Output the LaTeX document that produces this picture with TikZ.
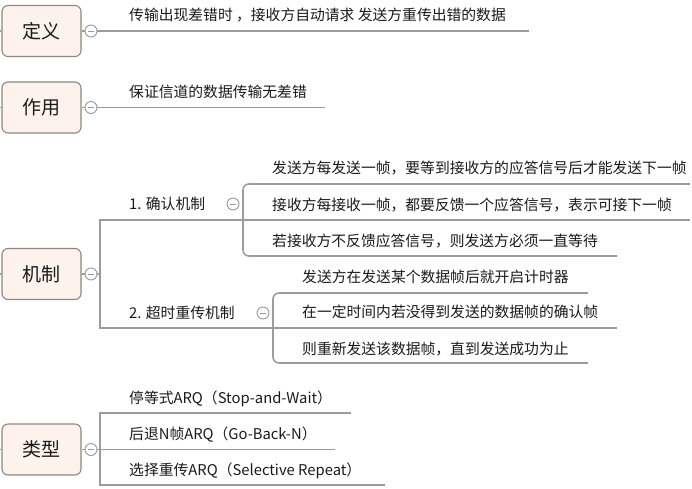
\documentclass[tikz,border=0pt]{standalone}
\usepackage{fontspec}
\setmainfont{Noto Sans CJK SC}
\definecolor{boxfill}{HTML}{FDF3EC}
\definecolor{boxdraw}{HTML}{8F877F}
\definecolor{linecol}{HTML}{9C9C9C}
\definecolor{foldcol}{HTML}{9A9A9A}
\definecolor{txt}{HTML}{1A1A1A}
\begin{document}
\begin{tikzpicture}[x=1pt,y=-1pt,
  topic/.style={draw=boxdraw, fill=boxfill, line width=1.1pt, rounded corners=6pt,
    minimum width=79pt, minimum height=51pt, inner sep=0pt,
    font=\fontsize{19}{19}\selectfont, text=txt, text height=14.4pt, text depth=0pt},
  conn/.style={draw=linecol, line width=1.6pt},
  fold/.style={circle, draw=foldcol, fill=white, line width=0.9pt, minimum size=12pt, inner sep=0pt,
    path picture={\draw[foldcol, line width=0.9pt]
      ([xshift=-3pt]path picture bounding box.center) -- ([xshift=3pt]path picture bounding box.center);}},
  lab/.style={anchor=west, inner sep=0pt, font=\fontsize{14.8}{14.8}\selectfont,
    text=txt, text height=11.2pt, text depth=0pt}
]
\useasboundingbox (0,0) rectangle (692,488);

% ---------- 定义 ----------
\node[topic] (dy) at (41.5,31) {定义};
\node[fold] (fdy) at (91,31) {};
\coordinate (sdy) at (0,31);
\coordinate (edy) at (529,31);
\draw[conn] (sdy) -- (dy.west);
\draw[conn] (dy.east) -- (fdy.west);
\draw[conn] (fdy.east) -- (edy);
\node[lab] (tdy) at (129,15) {传输出现差错时 ，接收方自动请求 发送方重传出错的数据};

% ---------- 作用 ----------
\node[topic] (zy) at (41.5,107.5) {作用};
\node[fold] (fzy) at (91,107.5) {};
\coordinate (szy) at (0,107.5);
\coordinate (ezy) at (325,107.5);
\draw[conn] (szy) -- (zy.west);
\draw[conn] (zy.east) -- (fzy.west);
\draw[conn] (fzy.east) -- (ezy);
\node[lab] (tzy) at (129,92) {保证信道的数据传输无差错};

% ---------- 机制 ----------
\node[topic] (jz) at (41.5,274) {机制};
\node[fold] (fjz) at (91,274) {};
\coordinate (sjz) at (0,274);
\coordinate (jzv) at (100,274);
\coordinate (jza) at (100,220);
\coordinate (jzb) at (100,328);
\coordinate (k1) at (243,220);
\coordinate (k2) at (273,328);
\draw[conn] (sjz) -- (jz.west);
\draw[conn] (jz.east) -- (fjz.west);
\draw[conn] (fjz.east) -- (jzv);
\draw[conn] (k1) -- (jza) -- (jzb) -- (k2);

\node[lab] (t1) at (129,204) {1. 确认机制};
\node[fold] (f1) at (233,204) {};
\node[lab] (t2) at (129,313) {2. 超时重传机制};
\node[fold] (f2) at (263,313) {};

% bracket 1
\coordinate (b1t) at (243,184);
\coordinate (b1b) at (243,256);
\coordinate (e1a) at (690,184);
\coordinate (e1b) at (690,220);
\coordinate (e1c) at (617,256);
\draw[conn, rounded corners=6pt] (e1a) -- (b1t) -- (b1b) -- (e1c);
\draw[conn] (k1) -- (e1b);
\node[lab] (s1a) at (272,168) {发送方每发送一帧，要等到接收方的应答信号后才能发送下一帧};
\node[lab] (s1b) at (272,205) {接收方每接收一帧，都要反馈一个应答信号，表示可接下一帧};
\node[lab] (s1c) at (272,241) {若接收方不反馈应答信号，则发送方必须一直等待};

% bracket 2
\coordinate (b2t) at (273,293);
\coordinate (b2b) at (273,363);
\coordinate (e2a) at (588,293);
\coordinate (e2b) at (617,328);
\coordinate (e2c) at (588,363);
\draw[conn, rounded corners=6pt] (e2a) -- (b2t) -- (b2b) -- (e2c);
\draw[conn] (k2) -- (e2b);
\node[lab] (s2a) at (302,277) {发送方在发送某个数据帧后就开启计时器};
\node[lab] (s2b) at (302,312) {在一定时间内若没得到发送的数据帧的确认帧};
\node[lab] (s2c) at (302,349) {则重新发送该数据帧，直到发送成功为止};

% ---------- 类型 ----------
\node[topic] (lx) at (41.5,449.5) {类型};
\node[fold] (flx) at (91,449.5) {};
\coordinate (slx) at (0,449.5);
\coordinate (lxa) at (100,413);
\coordinate (lxb) at (100,485);
\coordinate (lxm) at (100,449.5);
\coordinate (el1) at (351,413);
\coordinate (el2) at (335,449.5);
\coordinate (el3) at (385,485);
\draw[conn] (slx) -- (lx.west);
\draw[conn] (lx.east) -- (flx.west);
\draw[conn] (flx.east) -- (el2);
\draw[conn] (el1) -- (lxa) -- (lxb) -- (el3);
\node[lab] (l1) at (129,398) {停等式ARQ（Stop-and-Wait）};
\node[lab] (l2) at (129,434) {后退N帧ARQ（Go-Back-N）};
\node[lab] (l3) at (129,470) {选择重传ARQ（Selective Repeat）};
\end{tikzpicture}
\end{document}
